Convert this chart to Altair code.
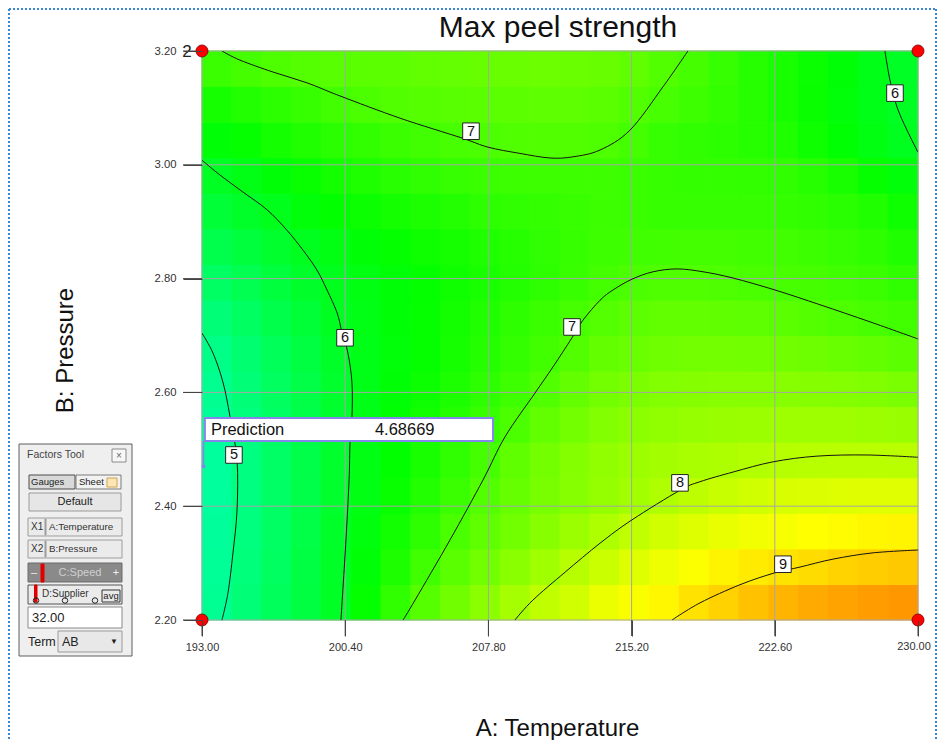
import altair as alt
import pandas as pd

FONT = "Liberation Sans"

# ---------------- values ----------------
temperature_ticks = [193.0, 200.4, 207.8, 215.2, 222.6, 230.0]
pressure_ticks = [2.2, 2.4, 2.6, 2.8, 3.0, 3.2]

# cell edges of the response grid (A: Temperature, B: Pressure)
temperature_edges = [193.0, 194.5417, 196.0833, 197.625, 199.1667, 200.7083, 202.25,
                     203.7917, 205.3333, 206.875, 208.4167, 209.9583, 211.5, 213.0417,
                     214.5833, 216.125, 217.6667, 219.2083, 220.75, 222.2917, 223.8333,
                     225.375, 226.9167, 228.4583, 230.0]
pressure_edges = [2.2, 2.2625, 2.325, 2.3875, 2.45, 2.5125, 2.575, 2.6375, 2.7, 2.7625,
                  2.825, 2.8875, 2.95, 3.0125, 3.075, 3.1375, 3.2]

# Max peel strength, one row per pressure band (bottom -> top), estimated from the contours
peel_rows = [
    [4.92, 5.18, 5.44, 5.69, 5.95, 6.33, 6.75, 7.10, 7.36, 7.61, 7.86, 8.10, 8.25, 8.51, 8.65, 8.78, 8.97, 9.12, 9.28, 9.40, 9.50, 9.57, 9.63, 9.67],
    [4.88, 5.14, 5.40, 5.67, 5.93, 6.24, 6.57, 6.90, 7.15, 7.37, 7.59, 7.81, 8.02, 8.20, 8.38, 8.53, 8.67, 8.80, 8.89, 8.96, 9.03, 9.11, 9.17, 9.21],
    [4.84, 5.11, 5.37, 5.64, 5.91, 6.18, 6.46, 6.73, 7.00, 7.19, 7.37, 7.58, 7.77, 7.94, 8.11, 8.26, 8.38, 8.49, 8.57, 8.63, 8.70, 8.74, 8.78, 8.79],
    [4.82, 5.09, 5.35, 5.62, 5.88, 6.13, 6.37, 6.61, 6.85, 7.07, 7.25, 7.42, 7.56, 7.70, 7.82, 7.96, 8.08, 8.18, 8.26, 8.32, 8.36, 8.39, 8.41, 8.41],
    [4.82, 5.09, 5.35, 5.62, 5.88, 6.12, 6.32, 6.53, 6.74, 6.95, 7.19, 7.38, 7.53, 7.67, 7.76, 7.83, 7.89, 7.93, 7.97, 8.00, 8.03, 8.05, 8.05, 8.04],
    [4.89, 5.13, 5.38, 5.62, 5.87, 6.09, 6.27, 6.46, 6.64, 6.83, 7.01, 7.21, 7.38, 7.52, 7.61, 7.67, 7.71, 7.74, 7.77, 7.78, 7.79, 7.78, 7.77, 7.74],
    [4.94, 5.18, 5.41, 5.64, 5.88, 6.08, 6.24, 6.40, 6.56, 6.72, 6.88, 7.05, 7.23, 7.38, 7.46, 7.52, 7.55, 7.57, 7.57, 7.57, 7.55, 7.53, 7.50, 7.45],
    [5.03, 5.25, 5.47, 5.69, 5.91, 6.08, 6.22, 6.36, 6.50, 6.64, 6.78, 6.92, 7.07, 7.23, 7.29, 7.35, 7.38, 7.38, 7.37, 7.36, 7.33, 7.28, 7.22, 7.16],
    [5.19, 5.39, 5.59, 5.79, 5.99, 6.11, 6.23, 6.36, 6.48, 6.60, 6.72, 6.84, 6.96, 7.08, 7.16, 7.21, 7.22, 7.20, 7.18, 7.15, 7.09, 7.03, 6.97, 6.92],
    [5.38, 5.55, 5.73, 5.90, 6.04, 6.14, 6.24, 6.34, 6.44, 6.53, 6.63, 6.73, 6.83, 6.93, 7.01, 7.04, 7.05, 7.02, 6.99, 6.98, 6.95, 6.90, 6.85, 6.75],
    [5.58, 5.73, 5.88, 6.02, 6.12, 6.23, 6.34, 6.42, 6.50, 6.58, 6.66, 6.74, 6.81, 6.87, 6.90, 6.92, 6.93, 6.93, 6.92, 6.91, 6.86, 6.80, 6.73, 6.59],
    [5.78, 5.91, 6.06, 6.22, 6.32, 6.40, 6.49, 6.56, 6.63, 6.70, 6.74, 6.79, 6.83, 6.86, 6.84, 6.81, 6.80, 6.80, 6.80, 6.79, 6.75, 6.69, 6.60, 6.42],
    [5.98, 6.10, 6.24, 6.37, 6.48, 6.58, 6.68, 6.74, 6.80, 6.84, 6.86, 6.87, 6.88, 6.88, 6.85, 6.81, 6.78, 6.78, 6.77, 6.74, 6.66, 6.53, 6.36, 6.22],
    [6.24, 6.36, 6.49, 6.60, 6.69, 6.76, 6.85, 6.91, 6.97, 7.01, 7.05, 7.07, 7.07, 7.03, 6.93, 6.80, 6.74, 6.71, 6.66, 6.58, 6.42, 6.28, 6.15, 6.02],
    [6.51, 6.61, 6.71, 6.81, 6.91, 7.01, 7.06, 7.10, 7.13, 7.15, 7.17, 7.18, 7.18, 7.15, 7.06, 6.97, 6.87, 6.77, 6.65, 6.53, 6.38, 6.22, 6.09, 5.97],
    [6.84, 6.95, 7.03, 7.08, 7.12, 7.15, 7.17, 7.21, 7.24, 7.27, 7.29, 7.31, 7.30, 7.27, 7.19, 7.06, 6.95, 6.80, 6.66, 6.53, 6.39, 6.24, 6.09, 5.95],
]

# contour lines (A, B)
c5_A = [193.0, 193.57, 194.09, 194.45, 194.81, 194.81, 194.60, 194.34, 194.03]
c5_B = [2.704, 2.669, 2.617, 2.557, 2.481, 2.393, 2.318, 2.247, 2.200]
c6l_A = [193.0, 193.93, 195.12, 196.36, 197.39, 198.22, 198.94, 199.46, 199.98, 200.23,
         200.54, 200.75, 200.75, 200.65, 200.60, 200.44, 200.18]
c6l_B = [3.008, 2.982, 2.952, 2.921, 2.885, 2.850, 2.815, 2.780, 2.740, 2.706,
         2.669, 2.617, 2.557, 2.511, 2.446, 2.341, 2.200]
c7t_A = [194.03, 194.96, 196.67, 198.43, 200.13, 203.23, 206.44, 207.78, 209.43, 210.98,
         212.17, 213.57, 215.12, 216.82, 218.11]
c7t_B = [3.200, 3.184, 3.163, 3.144, 3.121, 3.082, 3.047, 3.031, 3.020, 3.012,
         3.014, 3.026, 3.061, 3.137, 3.200]
c7m_A = [203.39, 204.01, 205.82, 207.52, 208.66, 210.21, 211.14, 212.12, 212.69, 213.57,
         214.24, 215.22, 216.31, 217.55, 218.89, 220.44, 222.61, 224.94, 227.52, 230.0]
c7m_B = [2.200, 2.235, 2.341, 2.446, 2.522, 2.599, 2.645, 2.696, 2.727, 2.762,
         2.780, 2.799, 2.812, 2.817, 2.812, 2.801, 2.780, 2.754, 2.724, 2.694]
c8_A = [209.17, 210.10, 211.76, 213.57, 215.22, 217.70, 218.73, 220.44, 222.51, 224.78, 227.36, 230.0]
c8_B = [2.200, 2.235, 2.284, 2.335, 2.376, 2.428, 2.443, 2.460, 2.478, 2.488, 2.490, 2.486]
c9_A = [217.29, 218.73, 220.80, 222.61, 223.90, 225.61, 227.67, 230.0]
c9_B = [2.200, 2.230, 2.262, 2.283, 2.293, 2.307, 2.318, 2.323]
c6r_A = [228.29, 228.55, 228.91, 229.43, 230.0]
c6r_B = [3.200, 3.149, 3.102, 3.061, 3.022]

label_A = [206.90, 200.39, 194.65, 212.12, 217.70, 223.02, 228.81]
label_B = [3.059, 2.696, 2.490, 2.715, 2.441, 2.298, 3.126]
label_text = ["7", "6", "5", "7", "8", "9", "6"]

design_A = [193.0, 193.0, 230.0, 230.0]
design_B = [2.2, 3.2, 2.2, 3.2]

prediction_A = 193.08
prediction_B = 2.47
prediction_value = "4.68669"
pred_box_A = [193.15, 208.04]
pred_box_B = [2.5146, 2.555]

# ---------------- tables ----------------
cells = []
for j, row in enumerate(peel_rows):
    for i, v in enumerate(row):
        cells.append({"t0": temperature_edges[i], "t1": temperature_edges[i + 1],
                      "p0": pressure_edges[j], "p1": pressure_edges[j + 1], "v": v})
heat_df = pd.DataFrame(cells)

curves = [("c5", c5_A, c5_B), ("c6l", c6l_A, c6l_B), ("c7t", c7t_A, c7t_B),
          ("c7m", c7m_A, c7m_B), ("c8", c8_A, c8_B), ("c9", c9_A, c9_B), ("c6r", c6r_A, c6r_B)]
rows = []
for name, A, B in curves:
    for k, (a, b) in enumerate(zip(A, B)):
        rows.append({"curve": name, "k": k, "A": a, "B": b})
contour_df = pd.DataFrame(rows)
label_df = pd.DataFrame({"A": label_A, "B": label_B, "text": label_text})
design_df = pd.DataFrame({"A": design_A, "B": design_B})
xtick_df = pd.DataFrame({"t": temperature_ticks})
ytick_df = pd.DataFrame({"p": pressure_ticks})
last_tick_df = pd.DataFrame({"t": [temperature_ticks[-1]],
                             "lab": ["%.2f" % temperature_ticks[-1]]})

PLOT_W, PLOT_H = 716, 569
xs = alt.Scale(domain=[193, 230], nice=False, zero=False)
ys = alt.Scale(domain=[2.2, 3.2], nice=False, zero=False)
cs = alt.Scale(domain=[3.9, 6.3, 8.7, 11.1],
               range=["#00ffff", "#00ff00", "#ffff00", "#ff0000"], interpolate="rgb")

# the last x label is drawn by a text mark (nudged so the page edge does not cut it)
x_axis = alt.Axis(values=temperature_ticks, format=".2f", grid=False, domain=False,
                  ticks=True, labels=True, zindex=1,
                  labelExpr="datum.value >= 229.9 ? '' : datum.label",
                  tickSize=16, tickColor="#444444", tickWidth=1, labelFont=FONT, labelFontSize=11,
                  labelColor="#333333", labelPadding=5, labelFlush=False, labelOverlap=False,
                  title="A: Temperature", titleFont=FONT, titleFontSize=24,
                  titleFontWeight="normal", titleColor="#111111", titleX=355, titleY=108,
                  titleBaseline="middle", titleAlign="center")
y_axis = alt.Axis(values=pressure_ticks, format=".2f", grid=False, domain=False,
                  ticks=True, labels=True, zindex=1,
                  tickSize=19, tickColor="#444444", tickWidth=1, labelFont=FONT, labelFontSize=11.3,
                  labelColor="#333333", labelPadding=7, labelOverlap=False,
                  title="B: Pressure", titleFont=FONT, titleFontSize=24,
                  titleFontWeight="normal", titleColor="#111111", titleX=-137, titleY=299,
                  titleAngle=270, titleBaseline="middle", titleAlign="center")


# every layer that uses the data scales carries the same axis definition
def AX(f):
    return alt.X(f, type="quantitative", scale=xs, axis=x_axis)


def AY(f):
    return alt.Y(f, type="quantitative", scale=ys, axis=y_axis)


heat = alt.Chart(heat_df).mark_rect(strokeWidth=1).encode(
    x=AX("t0"), x2="t1", y=AY("p0"), y2="p1",
    color=alt.Color("v:Q", scale=cs, legend=None),
    stroke=alt.Stroke("v:Q", scale=cs, legend=None))

vgrid = alt.Chart(xtick_df).mark_rule(color="#a6a6a6", strokeWidth=1).encode(x=AX("t"))
hgrid = alt.Chart(ytick_df).mark_rule(color="#a6a6a6", strokeWidth=1).encode(y=AY("p"))

# outward tick marks at the axis values
xticks = alt.Chart(xtick_df).mark_rule(color="#444444", strokeWidth=1).encode(
    x=AX("t"), y=alt.value(PLOT_H), y2=alt.value(PLOT_H + 16))
yticks = alt.Chart(ytick_df).mark_rule(color="#444444", strokeWidth=1).encode(
    y=AY("p"), x=alt.value(-19), x2=alt.value(0))
last_label = alt.Chart(last_tick_df).mark_text(
    font=FONT, fontSize=11, color="#333333", align="center", baseline="top", dx=-4).encode(
    x=AX("t"), y=alt.value(PLOT_H + 21), text="lab:N")

lines = alt.Chart(contour_df).mark_line(
    color="#141414", strokeWidth=1, interpolate="cardinal", clip=True).encode(
    x=AX("A"), y=AY("B"), detail="curve:N", order="k:Q")

lab_box = alt.Chart(label_df).mark_point(
    shape="square", size=275, filled=True, fill="white", stroke="#222222",
    strokeWidth=1, opacity=1).encode(x=AX("A"), y=AY("B"))
lab_text = alt.Chart(label_df).mark_text(
    font=FONT, fontSize=14.5, color="#111111", align="center", baseline="middle", dy=0.5).encode(
    x=AX("A"), y=AY("B"), text="text:N")

pred_df = pd.DataFrame({"A": [prediction_A], "B": [prediction_B],
                        "A0": [pred_box_A[0]], "A1": [pred_box_A[1]],
                        "B0": [pred_box_B[0]], "B1": [pred_box_B[1]],
                        "Bm": [(pred_box_B[0] + pred_box_B[1]) / 2],
                        "value": [prediction_value]})
pred_flag = alt.Chart(pred_df).mark_rule(color="#8585ec", strokeWidth=1.5).encode(
    x=AX("A"), y=AY("B"), y2="B0")
pred_dot = alt.Chart(pred_df).mark_point(
    shape="circle", size=14, filled=True, color="#8585ec", opacity=1).encode(x=AX("A"), y=AY("B"))
pred_box = alt.Chart(pred_df).mark_rect(fill="white", stroke="#8585ec", strokeWidth=2).encode(
    x=AX("A0"), x2="A1", y=AY("B0"), y2="B1")
pred_name = alt.Chart(pred_df).mark_text(
    font=FONT, fontSize=16.5, color="#111111", align="left", baseline="middle", dx=6, dy=1).encode(
    x=AX("A0"), y=AY("Bm"), text=alt.value("Prediction"))
pred_val = alt.Chart(pred_df).mark_text(
    font=FONT, fontSize=16.5, color="#111111", align="left", baseline="middle", dx=170, dy=1).encode(
    x=AX("A0"), y=AY("Bm"), text="value:N")

design = alt.Chart(design_df).mark_point(
    shape="circle", size=145, filled=True, fill="#ff0000", stroke="#6b0000",
    strokeWidth=0.8, opacity=1).encode(x=AX("A"), y=AY("B"))
count_text = alt.Chart(design_df.iloc[[1]]).mark_text(
    font=FONT, fontSize=17, color="#222222", align="center", baseline="middle", dx=-15, dy=1).encode(
    x=AX("A"), y=AY("B"), text=alt.value("2"))

layers = [heat, vgrid, hgrid, xticks, yticks, last_label, lines, lab_box, lab_text, pred_flag,
          pred_dot, pred_box, pred_name, pred_val, design, count_text]

# ---------------- title, Factors Tool panel and window frame (screen widgets) ----------------
OX, OY = 202, 51          # page position of the plot's top-left corner
one = pd.DataFrame({"k": [0]})

panel_rects = [
    (19, 444, 132, 656, "#efefef", "#5f5f5f"),
    (112, 449, 126, 462, "#f7f7f7", "#8a8a8a"),
    (29, 475, 75, 489, "#d9d9d9", "#4d4d4d"),
    (76, 475, 121, 489, "#f2f2f2", "#7a7a7a"),
    (107, 478, 117, 487, "#fbe7b5", "#d4a24a"),
    (29, 493, 121, 511, "#e6e6e6", "#9a9a9a"),
    (28, 518, 122, 536, "#ebebeb", "#9d9d9d"),
    (45, 519, 46, 535, "#9d9d9d", "#9d9d9d"),
    (28, 540, 122, 558, "#ebebeb", "#9d9d9d"),
    (45, 541, 46, 557, "#9d9d9d", "#9d9d9d"),
    (28, 563, 122, 582, "#8a8a8a", "#6a6a6a"),
    (41, 564, 44, 582, "#e00000", "#e00000"),
    (28, 585, 122, 604, "#ebebeb", "#555555"),
    (102, 590, 120, 602, "#e9e9e9", "#333333"),
    (34.5, 585, 37, 602, "#e00000", "#e00000"),
    (28, 607, 122, 628, "#ffffff", "#8a8a8a"),
    (58, 631, 122, 652, "#e8e8e8", "#9a9a9a"),
]
panel_texts = [
    (27, 455, "Factors Tool", 10.5, "#444444", "left"),
    (31, 482, "Gauges", 9.5, "#222222", "left"),
    (79, 482, "Sheet", 9.5, "#222222", "left"),
    (31, 527, "X1", 10, "#333333", "left"),
    (49, 527, "A:Temperature", 9.8, "#333333", "left"),
    (31, 549, "X2", 10, "#333333", "left"),
    (49, 549, "B:Pressure", 9.8, "#333333", "left"),
    (42, 594, "D:Supplier", 10, "#333333", "left"),
    (32, 618, "32.00", 13, "#222222", "left"),
    (28, 642, "Term", 12.5, "#222222", "left"),
    (62, 642, "AB", 12.5, "#222222", "left"),
    (119, 455.5, "×", 10, "#666666", "center"),
    (75, 502, "Default", 11, "#222222", "center"),
    (80, 572.5, "C:Speed", 11, "#d0d0d0", "center"),
    (34, 573, "–", 11, "#eeeeee", "center"),
    (116, 573, "+", 11, "#eeeeee", "center"),
    (111, 596, "avg", 9.5, "#222222", "center"),
    (114, 642, "▼", 8, "#222222", "center"),
]
panel_circles = [(36, 600.5), (65, 600.5), (95, 600.5)]
frame_lines = [(9, 9, 936, 9), (9, 9, 9, 760), (936, 9, 936, 760)]

for x1, y1, x2, y2, f, s in panel_rects:
    layers.append(alt.Chart(one).mark_rect(fill=f, stroke=s, strokeWidth=1).encode(
        x=alt.value(x1 - OX), x2=alt.value(x2 - OX), y=alt.value(y1 - OY), y2=alt.value(y2 - OY)))
for x, y, t, s, c, a in panel_texts:
    layers.append(alt.Chart(one).mark_text(text=t, font=FONT, fontSize=s, color=c, align=a,
                                           baseline="middle").encode(
        x=alt.value(x - OX), y=alt.value(y - OY)))
for x, y in panel_circles:
    layers.append(alt.Chart(one).mark_point(shape="circle", size=30, filled=False, color="#222222",
                                            strokeWidth=1, opacity=1).encode(
        x=alt.value(x - OX), y=alt.value(y - OY)))
for x1, y1, x2, y2 in frame_lines:
    layers.append(alt.Chart(one).mark_rule(color="#3b86d0", strokeWidth=2, strokeDash=[2, 2]).encode(
        x=alt.value(x1 - OX), x2=alt.value(x2 - OX), y=alt.value(y1 - OY), y2=alt.value(y2 - OY)))

# chart title as a text mark (placed like the reference)
layers.append(alt.Chart(one).mark_text(text="Max peel strength", font=FONT, fontSize=30,
                                       color="#111111", align="center", baseline="middle").encode(
    x=alt.value(558 - OX), y=alt.value(28 - OY)))

chart = alt.layer(*layers).properties(
    width=PLOT_W, height=PLOT_H,
    padding={"left": 194, "top": 43, "right": 19, "bottom": 120},
    autosize=alt.AutoSizeParams(type="none"),
    background="white",
).configure_view(stroke=None)

chart.save("out.html", embed_options={"renderer": "svg", "actions": False})
